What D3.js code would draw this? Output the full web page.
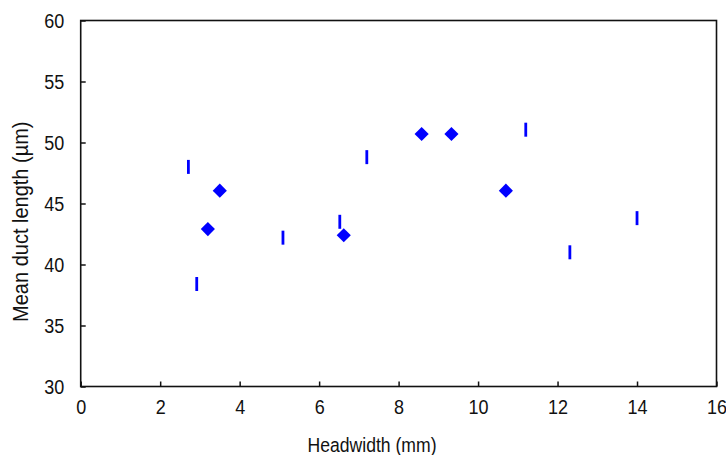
<!DOCTYPE html>
<html>
<head>
<meta charset="utf-8">
<script src="https://cdn.jsdelivr.net/npm/d3@7"></script>
<style>
  body { margin: 0; background: #fff; }
  svg { display: block; }
  text { font-family: "Liberation Sans", Arial, sans-serif; fill: #111; }
</style>
</head>
<body>
<svg id="chart" width="726" height="455"></svg>
<script>
// Series 1: diamonds
const diamondX = [3.2, 3.5, 6.62, 8.58, 9.33, 10.7];
const diamondY = [42.9, 46.05, 42.4, 50.7, 50.7, 46.05];
// Series 2: vertical dashes
const dashX = [2.71, 2.92, 5.09, 6.52, 7.2, 11.2, 12.31, 14.0];
const dashY = [48.0, 38.4, 42.2, 43.5, 48.8, 51.05, 41.0, 43.8];

const xTicks = [0, 2, 4, 6, 8, 10, 12, 14, 16];
const yTicks = [30, 35, 40, 45, 50, 55, 60];
const xTitle = "Headwidth (mm)";
const yTitle = "Mean duct length (µm)";

const svg = d3.select("#chart");
const L = 80.7, R = 716.5, T = 20.5, B = 386.5;

const x = d3.scaleLinear().domain([0, 16]).range([L, R]);
const y = d3.scaleLinear().domain([30, 60]).range([B, T]);

// X axis (ticks inward)
const gx = svg.append("g").attr("transform", `translate(0,${B})`)
  .call(d3.axisBottom(x).tickValues(xTicks).tickSizeInner(-5).tickSizeOuter(0).tickFormat(d3.format("d")));
gx.select(".domain").remove();
gx.selectAll(".tick line").attr("stroke", "#111").attr("stroke-width", 1.5);
gx.selectAll(".tick text")
  .attr("y", null).attr("dy", null)
  .attr("transform", `translate(0,${414.3 - B}) scale(1,1.1)`)
  .style("font-size", "18px").attr("fill", "#111");

// Y axis (ticks inward)
const gy = svg.append("g").attr("transform", `translate(${L},0)`)
  .call(d3.axisLeft(y).tickValues(yTicks).tickSizeInner(-5).tickSizeOuter(0).tickFormat(d3.format("d")));
gy.select(".domain").remove();
gy.selectAll(".tick line").attr("stroke", "#111").attr("stroke-width", 1.5);
gy.selectAll(".tick text")
  .attr("x", null).attr("dy", null)
  .attr("transform", `translate(-16.5,7) scale(1,1.1)`)
  .attr("text-anchor", "end")
  .style("font-size", "18px").attr("fill", "#111");

// Frame
svg.append("rect")
  .attr("x", L).attr("y", T).attr("width", R - L).attr("height", B - T)
  .attr("fill", "none").attr("stroke", "#111").attr("stroke-width", 1.6);

// Titles
svg.append("text")
  .attr("transform", "translate(372,451.7) scale(1,1.2)")
  .attr("text-anchor", "middle")
  .style("font-size", "17.6px")
  .text(xTitle);

svg.append("text")
  .attr("transform", "translate(28.3,221.7) rotate(-90) scale(1,1.1)")
  .attr("text-anchor", "middle")
  .style("font-size", "20px")
  .text(yTitle);

// Diamonds
const diamonds = d3.range(diamondX.length).map(i => ({x: diamondX[i], y: diamondY[i]}));
const dsym = d3.symbol().type(d3.symbolSquare).size(100);
svg.append("g").selectAll("path").data(diamonds).join("path")
  .attr("d", dsym)
  .attr("transform", d => `translate(${x(d.x)},${y(d.y)}) rotate(45)`)
  .attr("fill", "#0000ff");

// Dashes
const dashes = d3.range(dashX.length).map(i => ({x: dashX[i], y: dashY[i]}));
svg.append("g").selectAll("line").data(dashes).join("line")
  .attr("x1", d => x(d.x)).attr("x2", d => x(d.x))
  .attr("y1", d => y(d.y) - 7).attr("y2", d => y(d.y) + 7)
  .attr("stroke", "#0000ff").attr("stroke-width", 2.8);
</script>
</body>
</html>
